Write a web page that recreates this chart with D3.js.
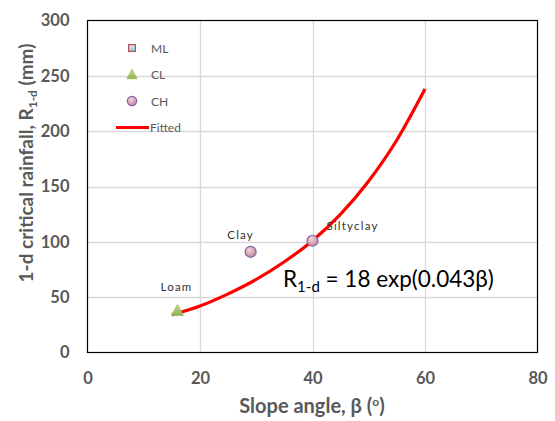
<!DOCTYPE html>
<html>
<head>
<meta charset="utf-8">
<script src="https://cdn.jsdelivr.net/npm/d3@7"></script>
<style>
  body { margin: 0; background: #fff; }
  svg { display: block; font-family: Lato, "Open Sans", sans-serif; }
</style>
</head>
<body>
<svg width="555" height="421"></svg>
<script>
  // measured soils
  var soils = ["Loam", "Clay", "Siltyclay"];
  var soilType = ["CL", "CH", "CH"];
  var slope = [16, 29, 40];
  var rainfall = [38, 91, 101];

  // fitted curve
  var fitBeta = [15, 20, 25, 30, 35, 40, 45, 50, 55, 60];
  var fitR = [34, 42, 53, 66, 82, 101, 125, 155, 192, 238];

  var xTicks = [0, 20, 40, 60, 80];
  var yTicks = [0, 50, 100, 150, 200, 250, 300];
  var legendItems = ["ML", "CL", "CH", "Fitted"];

(function(){
  var svg = d3.select("svg");
  var pLeft = 87.5, pRight = 537.5, pTop = 20.5, pBottom = 352.5;

  var x = d3.scaleLinear().domain([0, 80]).range([pLeft, pRight]);
  var y = d3.scaleLinear().domain([0, 300]).range([pBottom, pTop]);

  var defs = svg.append("defs");
  var rg = defs.append("radialGradient").attr("id", "chFill").attr("cx", "40%").attr("cy", "35%").attr("r", "65%");
  rg.append("stop").attr("offset", "0%").attr("stop-color", "#f2d4dc");
  rg.append("stop").attr("offset", "100%").attr("stop-color", "#c4879a");
  var tg = defs.append("linearGradient").attr("id", "clFill").attr("x1", "0").attr("y1", "0").attr("x2", "0").attr("y2", "1");
  tg.append("stop").attr("offset", "0%").attr("stop-color", "#c5dc97");
  tg.append("stop").attr("offset", "100%").attr("stop-color", "#8fb04e");
  var sg = defs.append("linearGradient").attr("id", "mlFill").attr("x1", "0").attr("y1", "0").attr("x2", "0").attr("y2", "1");
  sg.append("stop").attr("offset", "0%").attr("stop-color", "#d4ecf8");
  sg.append("stop").attr("offset", "100%").attr("stop-color", "#8cc6e4");

  // grid
  svg.append("g").selectAll("line").data(xTicks.slice(1, -1)).enter().append("line")
    .attr("x1", function(d){ return Math.round(x(d)) + 0.5; })
    .attr("x2", function(d){ return Math.round(x(d)) + 0.5; })
    .attr("y1", pTop).attr("y2", pBottom)
    .attr("stroke", "#d9d9d9").attr("stroke-width", 1.3);
  svg.append("g").selectAll("line").data(yTicks.slice(1, -1)).enter().append("line")
    .attr("y1", function(d){ return Math.round(y(d)) + 0.5; })
    .attr("y2", function(d){ return Math.round(y(d)) + 0.5; })
    .attr("x1", pLeft).attr("x2", pRight)
    .attr("stroke", "#d9d9d9").attr("stroke-width", 1.3);

  // frame
  svg.append("rect").attr("x", pLeft).attr("y", pTop)
    .attr("width", pRight - pLeft).attr("height", pBottom - pTop)
    .attr("fill", "none").attr("stroke", "#000").attr("stroke-width", 1.2);

  // axes via d3 axis, styled like Excel
  var xAxis = svg.append("g").attr("transform", "translate(0," + pBottom + ")")
    .call(d3.axisBottom(x).tickValues(xTicks).tickSize(0).tickPadding(20));
  var yAxis = svg.append("g").attr("transform", "translate(" + pLeft + ",0)")
    .call(d3.axisLeft(y).tickValues(yTicks).tickSize(0).tickPadding(18));
  [xAxis, yAxis].forEach(function(g){
    g.select(".domain").remove();
    g.selectAll("text").attr("font-family", "Lato, sans-serif").attr("font-size", 16.5)
      .attr("font-weight", "bold").attr("fill", "#595959");
  });

  // axis titles
  var yt = svg.append("text")
    .attr("transform", "translate(33,163) rotate(-90)")
    .attr("text-anchor", "middle").attr("font-size", 19).attr("font-weight", "bold").attr("fill", "#595959");
  yt.append("tspan").text("1-d critical rainfall, R");
  yt.append("tspan").attr("font-size", 12).attr("dy", 4).text("1-d");
  yt.append("tspan").attr("dy", -4).text(" (mm)");

  var xt = svg.append("text").attr("x", 312).attr("y", 413)
    .attr("text-anchor", "middle").attr("font-size", 20).attr("font-weight", "bold").attr("fill", "#595959");
  xt.append("tspan").text("Slope angle, \u03b2 (");
  xt.append("tspan").attr("font-size", 12).attr("dy", -7).text("o");
  xt.append("tspan").attr("dy", 7).text(")");

  // fitted line
  var fit = fitBeta.map(function(b, i){ return [b, fitR[i]]; });
  svg.append("path").datum(fit)
    .attr("d", d3.line().x(function(d){ return x(d[0]); }).y(function(d){ return y(d[1]); }).curve(d3.curveMonotoneX))
    .attr("fill", "none").attr("stroke", "#ff0000").attr("stroke-width", 3.2);

  function marker(g, type, s){
    if (type === "CH") {
      g.append("circle").attr("r", 5.5 * s).attr("fill", "url(#chFill)").attr("stroke", "#8064a2").attr("stroke-width", 1.2);
    } else if (type === "CL") {
      g.append("path").attr("d", "M0," + (-6 * s) + " L" + (6 * s) + "," + (5 * s) + " L" + (-6 * s) + "," + (5 * s) + " Z")
        .attr("fill", "url(#clFill)").attr("stroke", "#9bbb59").attr("stroke-width", 0.8);
    } else {
      g.append("rect").attr("x", -4 * s).attr("y", -4 * s).attr("width", 8 * s).attr("height", 8 * s)
        .attr("fill", "url(#mlFill)").attr("stroke", "#c0504d").attr("stroke-width", 1.2);
    }
  }

  // points
  var pts = svg.append("g").selectAll("g").data(soils).enter().append("g")
    .attr("transform", function(d, i){ return "translate(" + x(slope[i]) + "," + y(rainfall[i]) + ")"; });
  pts.each(function(d, i){ marker(d3.select(this), soilType[i], 1); });

  // data labels
  var labelOffsets = [[-1, -19, "middle"], [-10, -13, "middle"], [14, -11, "start"]];
  svg.append("g").selectAll("text").data(soils).enter().append("text")
    .attr("x", function(d, i){ return x(slope[i]) + labelOffsets[i][0]; })
    .attr("y", function(d, i){ return y(rainfall[i]) + labelOffsets[i][1]; })
    .attr("text-anchor", function(d, i){ return labelOffsets[i][2]; })
    .attr("font-family", "Lato, sans-serif").attr("font-size", 11.5).attr("letter-spacing", 1.2)
    .attr("fill", "#333").text(function(d){ return d; });

  // equation
  var eq = svg.append("text").attr("x", 283).attr("y", 287).attr("font-size", 22.5).attr("fill", "#000");
  eq.append("tspan").text("R");
  eq.append("tspan").attr("font-size", 15).attr("dy", 5).text("1-d");
  eq.append("tspan").attr("dy", -5).text(" = 18 exp(0.043\u03b2)");

  // legend
  var lg = svg.append("g").selectAll("g").data(legendItems).enter().append("g")
    .attr("transform", function(d, i){ return "translate(132," + (48 + i * 26.5) + ")"; });
  lg.each(function(d){
    var g = d3.select(this);
    if (d === "Fitted") {
      g.append("line").attr("x1", -16).attr("x2", 17).attr("stroke", "#ff0000").attr("stroke-width", 3.2);
    } else {
      marker(g, d, 0.85);
    }
    g.append("text").attr("x", d === "Fitted" ? 18 : 19).attr("y", 4.5).attr("font-size", 12)
      .attr("fill", "#595959").text(d);
  });
})();
</script>
</body>
</html>
